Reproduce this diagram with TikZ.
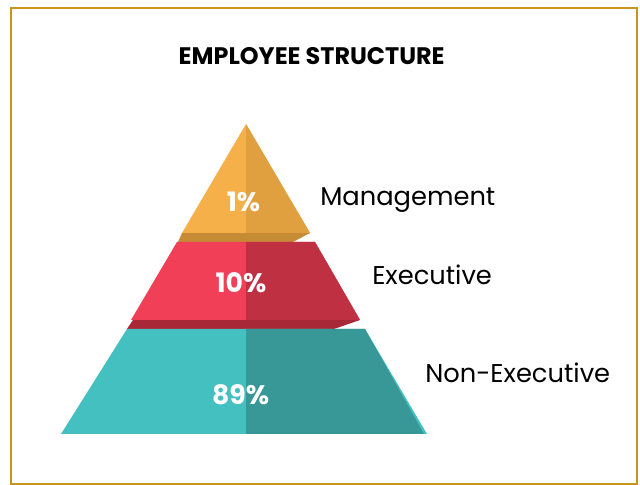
\documentclass[tikz,border=0pt]{standalone}
\usepackage{fontspec}
\setmainfont{Poppins}
\usepackage{xcolor}
\usetikzlibrary{positioning}
\definecolor{frameGold}{RGB}{200, 150, 30}
\definecolor{mgmtLight}{RGB}{246, 176, 74}
\definecolor{mgmtDark}{RGB}{224, 160, 64}
\definecolor{mgmtShade}{RGB}{198, 139, 53}
\definecolor{execLight}{RGB}{240, 63, 86}
\definecolor{execDark}{RGB}{192, 48, 67}
\definecolor{execShade}{RGB}{168, 40, 56}
\definecolor{staffLight}{RGB}{69, 192, 192}
\definecolor{staffDark}{RGB}{56, 152, 152}

\begin{document}
\begin{tikzpicture}[
    x=0.025cm, y=-0.025cm,
    pct/.style={anchor=base, inner sep=0pt, text=white, font=\fontsize{19}{20}\selectfont\bfseries},
    lbl/.style={anchor=base west, inner sep=0pt, font=\fontsize{18.3}{19}\selectfont},
    ttl/.style={anchor=base, inner sep=0pt, font=\fontsize{17}{18}\selectfont\bfseries}
]
\useasboundingbox (0,0) rectangle (640,485);
\draw[frameGold, line width=1.6pt] (11,8) rectangle (637,484);

% top layer
\fill[mgmtShade] (182,233) -- (310,233) -- (293,242) -- (178,242) -- cycle;
\fill[mgmtLight] (246,124) -- (310,233) -- (182,233) -- cycle;
\fill[mgmtDark]  (246,124) -- (310,233) -- (246,233) -- cycle;

% middle layer
\fill[execShade] (133,320) -- (360,320) -- (334,329) -- (127,329) -- cycle;
\fill[execLight] (177,242) -- (315,242) -- (360,320) -- (131,320) -- cycle;
\fill[execDark]  (246,242) -- (315,242) -- (360,320) -- (246,320) -- cycle;

% bottom layer
\fill[staffLight] (127,329) -- (365,329) -- (427,434) -- (61,434) -- cycle;
\fill[staffDark]  (246,329) -- (365,329) -- (424,434) -- (246,434) -- cycle;

\node[ttl] (title) at (311.7,64.3) {EMPLOYEE STRUCTURE};

\node[pct] (p1)  at (243.5,212) {1\%};
\node[pct] (p10) at (241,293)   {10\%};
\node[pct] (p89) at (240.5,405) {89\%};

\node[lbl] (mgmt)  at (320,205.7) {Management};
\node[lbl] (exec)  at (372,285)   {Executive};
\node[lbl] (staff) at (425,383)   {Non-Executive};
\end{tikzpicture}
\end{document}
